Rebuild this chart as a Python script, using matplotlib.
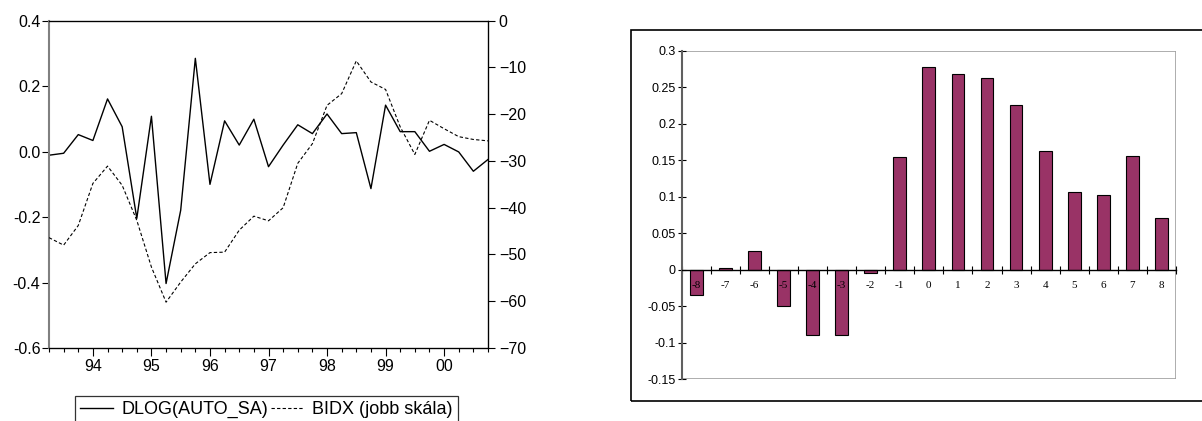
import matplotlib
matplotlib.use("Agg")
import matplotlib.pyplot as plt
import numpy as np
from matplotlib.patches import Rectangle
from matplotlib.ticker import FixedLocator, MultipleLocator

# quarterly data 1993Q2 .. 2000Q4
dlog_auto = [-0.011, -0.005, 0.052, 0.034, 0.161, 0.076, -0.204, 0.108, -0.403, -0.179,
             0.285, -0.100, 0.094, 0.020, 0.099, -0.046, 0.020, 0.082, 0.055, 0.115,
             0.055, 0.058, -0.113, 0.142, 0.061, 0.061, 0.001, 0.022, -0.001, -0.060,
             -0.024]
bidx = [-46.4, -48.0, -43.8, -34.8, -31.1, -35.2, -42.7, -52.7, -60.2, -55.9,
        -52.0, -49.6, -49.5, -44.8, -41.8, -42.8, -40.0, -30.5, -26.3, -18.1,
        -15.6, -8.6, -13.1, -14.7, -22.7, -28.6, -21.3, -23.1, -24.8, -25.4,
        -25.7]
year_labels = ["94", "95", "96", "97", "98", "99", "00"]

# cross-correlation bars
lags = [-8, -7, -6, -5, -4, -3, -2, -1, 0, 1, 2, 3, 4, 5, 6, 7, 8]
corr = [-0.035, 0.002, 0.026, -0.049, -0.090, -0.089, -0.005, 0.154, 0.277,
        0.268, 0.262, 0.226, 0.162, 0.107, 0.102, 0.156, 0.071]

W, H = 1202, 421
fig = plt.figure(figsize=(W / 100, H / 100), dpi=100)
plt.rcParams['font.family'] = ['Liberation Sans', 'DejaVu Sans']


def box(l, t, r, b):
    return [l / W, 1 - b / H, (r - l) / W, (b - t) / H]


# ---------------- left: line chart with two scales ----------------
ax = fig.add_axes(box(49, 20.7, 488, 348))
x = np.arange(len(dlog_auto))
l1, = ax.plot(x, dlog_auto, color='black', lw=1.0, label='DLOG(AUTO_SA)')
ax.set_xlim(0, len(dlog_auto) - 1)
ax.set_ylim(-0.6, 0.4)
ax.set_yticks([-0.6, -0.4, -0.2, 0.0, 0.2, 0.4])
ax.set_yticklabels(['-0.6', '-0.4', '-0.2', '0.0', '0.2', '0.4'])
year_pos = [3 + 4 * k for k in range(len(year_labels))]
ax.set_xticks(year_pos)
ax.set_xticklabels(year_labels)
ax.xaxis.set_minor_locator(FixedLocator(x))
ax.tick_params(axis='x', which='major', length=5.8, width=0.8, labelsize=11.5, pad=2.2)
ax.tick_params(axis='x', which='minor', length=3.1, width=0.8)
ax.tick_params(axis='y', length=5, width=0.8, labelsize=11.5, pad=1.2)
ax.spines['left'].set_color('#808080')
ax.spines['left'].set_linewidth(1.5)
for s in ['top', 'right', 'bottom']:
    ax.spines[s].set_linewidth(0.9)

ax2 = ax.twinx()
l2, = ax2.plot(x, bidx, color='black', lw=0.8, dashes=(3, 2), label='BIDX (jobb skála)')
ax2.set_ylim(-70, 0)
ax2.yaxis.set_major_locator(MultipleLocator(10))
ax2.tick_params(axis='y', length=5, width=0.8, labelsize=11.5, pad=2.8)
ax2.spines['left'].set_visible(False)

leg = fig.legend(handles=[l1, l2], loc='upper left', ncol=2,
                 bbox_to_anchor=(75 / W, 1 - 395.7 / H), borderaxespad=0,
                 frameon=True, fancybox=False, edgecolor='black', fontsize=13,
                 handlelength=1.8, handletextpad=0.45, columnspacing=0.2,
                 borderpad=0.3)
leg.get_frame().set_linewidth(0.9)

# ---------------- right: bar chart ----------------
fig.patches.append(Rectangle((630.5 / W, 1 - 400.7 / H), (W + 10 - 630.5) / W,
                             (400.7 - 29.5) / H, transform=fig.transFigure,
                             fill=False, edgecolor='black', lw=1.2))

bx = fig.add_axes(box(681.7, 50.7, 1176, 379.3))
bx.bar(lags, corr, width=0.44, color='#993366', edgecolor='black', lw=0.8, zorder=2)
bx.set_xlim(lags[0] - 0.5, lags[-1] + 0.5)
bx.set_ylim(-0.15, 0.3)
yt = np.round(np.arange(-0.15, 0.301, 0.05), 2)
bx.set_yticks(yt)
bx.set_yticklabels([f'{v:g}' for v in yt])
bx.tick_params(axis='y', direction='inout', length=6, width=0.8, labelsize=9, pad=1.5)
bx.spines['left'].set_color('#606060')
bx.spines['left'].set_linewidth(1.5)
for s in ['top', 'right']:
    bx.spines[s].set_visible(False)
bx.spines['bottom'].set_position(('data', 0))
bx.spines['bottom'].set_linewidth(1.0)
bx.spines['bottom'].set_zorder(3)
bx.set_xticks(np.arange(lags[0] - 0.5, lags[-1] + 1, 1.0))
bx.set_xticklabels([])
bx.tick_params(axis='x', direction='inout', length=6, width=0.8)
bx.add_patch(Rectangle((0, 0), 1, 1, transform=bx.transAxes, fill=False,
                       edgecolor='#a0a0a0', lw=1.2, zorder=1))
for lag in lags:
    bx.annotate(str(lag), (lag, 0), xytext=(0, -16), textcoords='offset pixels',
                ha='center', va='center', fontsize=8, family='Liberation Serif',
                zorder=4)

fig.savefig('out.png', dpi=100)
